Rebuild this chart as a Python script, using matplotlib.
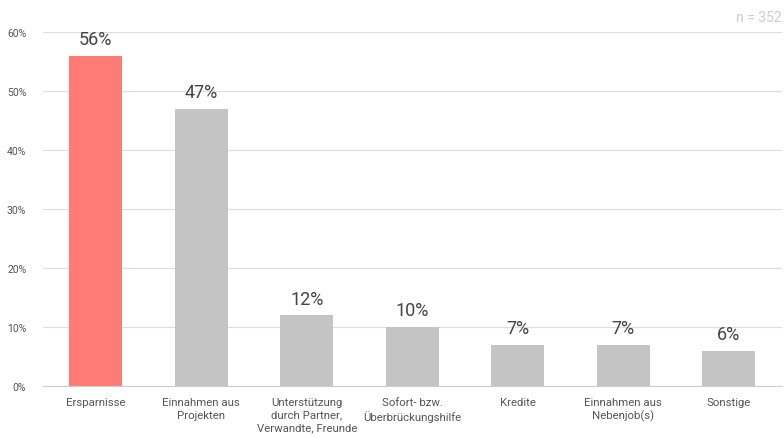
import matplotlib.pyplot as plt

plt.rcParams['font.family'] = ['Roboto', 'DejaVu Sans']

categories = ['Ersparnisse', 'Einnahmen aus\nProjekten', 'Unterstützung\ndurch Partner,\nVerwandte, Freunde',
              'Sofort- bzw.\nÜberbrückungshilfe', 'Kredite', 'Einnahmen aus\nNebenjob(s)', 'Sonstige']
values = [56, 47, 12, 10, 7, 7, 6]
colors = ['#ff7b76', '#c4c4c4', '#c4c4c4', '#c4c4c4', '#c4c4c4', '#c4c4c4', '#c4c4c4']
yticks = [0, 10, 20, 30, 40, 50, 60]

fig = plt.figure(figsize=(7.84, 4.39), dpi=100)
ax = fig.add_axes([43 / 784, 52 / 439, 738.5 / 784, 354 / 439])

x = range(len(categories))
ax.bar(x, values, width=0.5, color=colors, zorder=2)
for i, v in zip(x, values):
    ax.text(i, v + 1.3, f'{v}%', ha='center', va='bottom', fontsize=13, color='#444444')

ax.set_xlim(-0.5, len(categories) - 0.5)
ax.set_ylim(0, 60)
ax.set_yticks(yticks)
ax.set_yticklabels([f'{t}%' for t in yticks], fontsize=7.5, color='#555555')
ax.set_xticks(list(x))
ax.set_xticklabels(categories, fontsize=8.2, color='#555555', linespacing=1.3)
ax.tick_params(length=0, pad=8)
ax.tick_params(axis='y', pad=12)
ax.grid(axis='y', color='#dddddd', linewidth=0.8, zorder=0)
for s in ['top', 'right', 'left']:
    ax.spines[s].set_visible(False)
ax.spines['bottom'].set_color('#cccccc')

fig.text(781 / 784, 414 / 439, 'n = 352', ha='right', va='bottom', fontsize=10, color='#cccccc')

fig.savefig('out.png', dpi=100)
